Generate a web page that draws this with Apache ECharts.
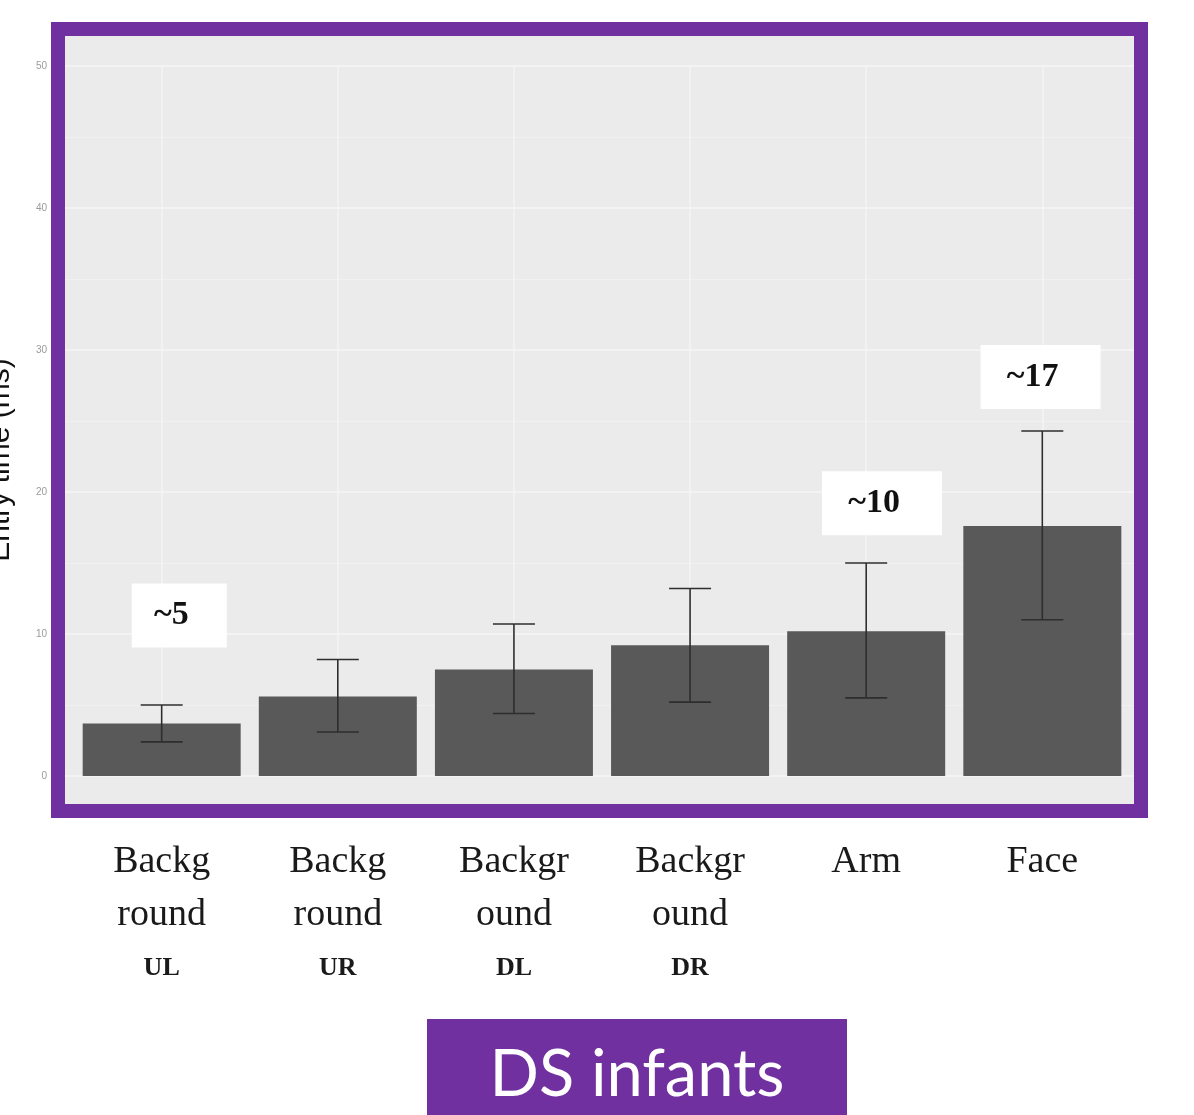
<!DOCTYPE html>
<html>
<head>
<meta charset="utf-8">
<title>DS infants</title>
<script src="https://cdn.jsdelivr.net/npm/echarts@6.0.0/dist/echarts.min.js"></script>
<style>
  html, body { margin: 0; padding: 0; background: #fff; }
  #chart { width: 1194px; height: 1115px; }
</style>
</head>
<body>
<div id="chart"></div>
<script>
  // areas of interest, in plot order
  var categories = ['Backg\nround\nUL', 'Backg\nround\nUR', 'Backgr\nound\nDL', 'Backgr\nound\nDR', 'Arm', 'Face'];
  var positions = [1, 2, 3, 4, 5, 6];
  // mean entry time and error bar ends
  var meanTime = [3.7, 5.6, 7.5, 9.2, 10.2, 17.6];
  var errLow = [2.4, 3.1, 4.4, 5.2, 5.5, 11.0];
  var errHigh = [5.0, 8.2, 10.7, 13.2, 15.0, 24.3];
  // callout boxes
  var noteText = ['~5', '~10', '~17'];
  var noteX = [1.1, 5.09, 5.99];
  var noteY = [11.3, 19.2, 28.1];

  var purple = '#7030A0';
  var chart = echarts.init(document.getElementById('chart'));

  chart.setOption({
    animation: false,
    grid: {
      left: 56,
      right: 46,
      top: 66,
      bottom: 339
    },
    xAxis: {
      type: 'value',
      min: 0.4,
      max: 6.6,
      axisLine: { show: false },
      axisTick: { show: false, customValues: positions },
      splitLine: {
        show: true,
        lineStyle: { color: '#f5f5f5', width: 1.5 }
      },
      axisLabel: {
        customValues: positions,
        margin: 60,
        formatter: function (v) {
          var parts = categories[positions.indexOf(v)].split('\n');
          return parts.map(function (p, k) {
            return k < 2 ? '{big|' + p + '}' : '{small|' + p + '}';
          }).join('\n');
        },
        rich: {
          big: {
            fontFamily: 'Liberation Serif',
            fontSize: 38,
            lineHeight: 53,
            color: '#1a1a1a'
          },
          small: {
            fontFamily: 'Liberation Serif',
            fontSize: 26,
            fontWeight: 'bold',
            lineHeight: 53,
            color: '#1a1a1a'
          }
        }
      }
    },
    yAxis: {
      type: 'value',
      min: 0,
      max: 50,
      interval: 10,
      axisLine: { show: false },
      axisTick: { show: false },
      axisLabel: {
        fontSize: 10,
        color: '#9a9a9a',
        margin: 9
      },
      splitLine: {
        lineStyle: { color: '#f6f6f6', width: 1.5 }
      },
      minorTick: { show: false, splitNumber: 2 },
      minorSplitLine: {
        show: true,
        lineStyle: { color: '#f1f1f1', width: 1 }
      }
    },
    series: [
      {
        type: 'bar',
        data: positions.map(function (p, i) { return [p, meanTime[i]]; }),
        barWidth: 158,
        itemStyle: { color: '#595959' },
        z: 2
      },
      {
        type: 'custom',
        data: positions.map(function (p, i) { return [p, errLow[i], errHigh[i]]; }),
        renderItem: function (params, api) {
          var x = api.value(0);
          var lo = api.coord([x, api.value(1)]);
          var hi = api.coord([x, api.value(2)]);
          var half = 21;
          var style = { stroke: '#2e2e2e', lineWidth: 1.6 };
          return {
            type: 'group',
            children: [
              { type: 'line', shape: { x1: lo[0], y1: lo[1], x2: hi[0], y2: hi[1] }, style: style },
              { type: 'line', shape: { x1: hi[0] - half, y1: hi[1], x2: hi[0] + half, y2: hi[1] }, style: style },
              { type: 'line', shape: { x1: lo[0] - half, y1: lo[1], x2: lo[0] + half, y2: lo[1] }, style: style }
            ]
          };
        },
        z: 3
      },
      {
        type: 'scatter',
        symbolSize: 1,
        itemStyle: { color: 'rgba(0,0,0,0)', opacity: 1 },
        data: noteX.map(function (x, i) {
          return {
            value: [x, noteY[i]],
            label: { formatter: noteText[i], width: 29 + 25 * noteText[i].length }
          };
        }),
        label: {
          show: true,
          position: 'inside',
          backgroundColor: '#fff',
          padding: [0, 16, 0, 0],
          height: 64,
          lineHeight: 64,
          align: 'center',
          verticalAlign: 'middle',
          fontFamily: 'Liberation Serif',
          fontWeight: 'bold',
          fontSize: 34,
          color: '#111'
        },
        z: 4
      }
    ],
    graphic: [
      {
        type: 'rect',
        z: -10,
        shape: { x: 58, y: 29, width: 1083, height: 782 },
        style: { fill: '#EBEBEB' }
      },
      {
        type: 'rect',
        z: 100,
        shape: { x: 58, y: 29, width: 1083, height: 782 },
        style: { fill: 'none', stroke: purple, lineWidth: 14 }
      },
      {
        type: 'text',
        x: 1,
        y: 460,
        rotation: Math.PI / 2,
        style: {
          text: 'Entry time (ms)',
          fill: '#111',
          fontFamily: 'Liberation Sans',
          fontSize: 30,
          textAlign: 'center',
          textVerticalAlign: 'middle'
        }
      },
      {
        type: 'rect',
        shape: { x: 427, y: 1019, width: 420, height: 100 },
        style: { fill: purple }
      },
      {
        type: 'text',
        x: 637,
        y: 1075,
        style: {
          text: 'DS infants',
          fill: '#fff',
          fontFamily: 'Lato',
          fontSize: 65,
          textAlign: 'center',
          textVerticalAlign: 'middle'
        }
      }
    ]
  });
</script>
</body>
</html>
